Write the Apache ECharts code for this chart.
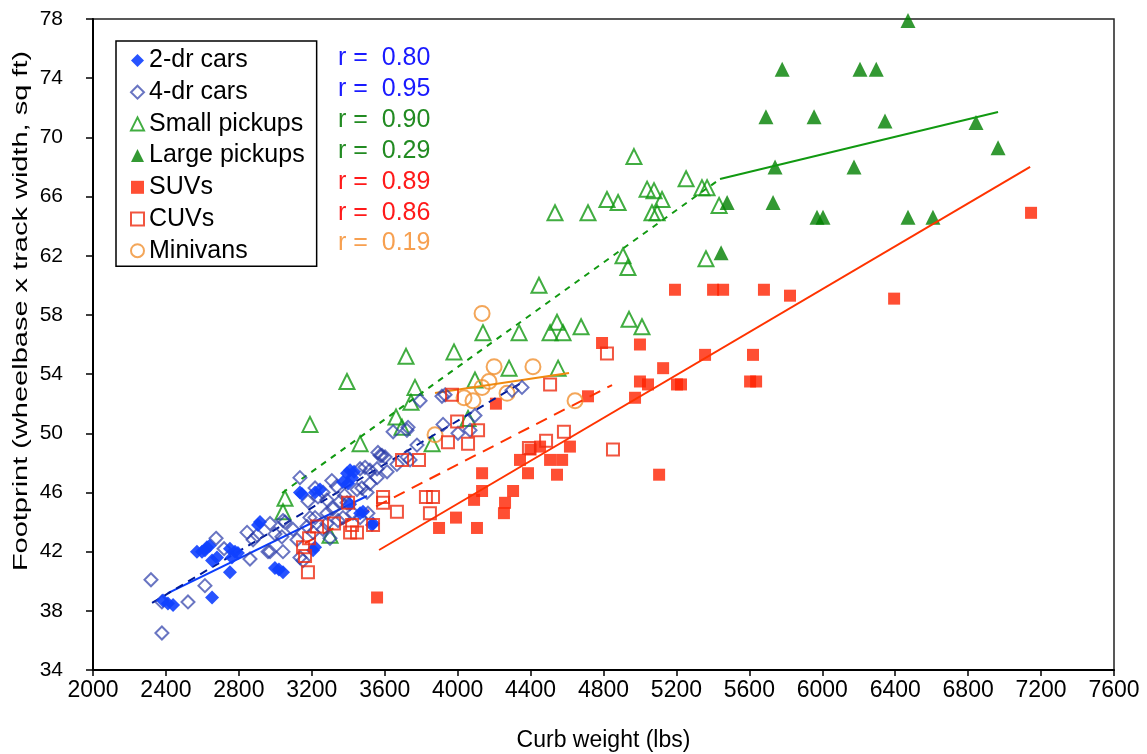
<!DOCTYPE html>
<html><head><meta charset="utf-8">
<script src="https://cdn.jsdelivr.net/npm/echarts@6/dist/echarts.min.js"></script>
<style>html,body{margin:0;padding:0;background:#fff}#c{width:1147px;height:754px}</style>
</head><body><div id="c"></div>
<script>
const xTicks = [2000,2400,2800,3200,3600,4000,4400,4800,5200,5600,6000,6400,6800,7200,7600];
const yTicks = [34,38,42,46,50,54,58,62,66,70,74,78];
const seriesNames = ['2-dr cars','4-dr cars','Small pickups','Large pickups','SUVs','CUVs','Minivans'];
const rLabels = ['r =  0.80','r =  0.95','r =  0.90','r =  0.29','r =  0.89','r =  0.86','r =  0.19'];
const xTitle = 'Curb weight (lbs)';
const yTitle = 'Footprint (wheelbase x track width, sq ft)';

const twoDoor = [[2384,38.7],[2411,38.5],[2439,38.4],[2653,38.9],[2598,42.0],[2614,42.1],[2625,42.3],[2653,41.4],[2680,41.6],[2751,40.6],[2751,42.2],[2779,42.0],[2795,41.9],[2762,41.6],[2905,43.8],[2916,44.0],[2998,40.9],[3042,40.6],[3020,40.8],[3135,46.0],[3146,45.9],[3218,46.0],[3245,46.2],[3218,42.3],[3207,42.1],[3393,47.3],[3410,47.5],[3421,47.0],[3371,46.7],[3399,46.6],[3432,47.4],[3465,44.6],[3481,44.7],[3530,43.8],[3536,43.9],[3410,45.2],[2570,42.0],[2640,42.4]];
const fourDoor = [[2318,40.1],[2378,36.5],[2378,38.6],[2521,38.6],[2614,39.7],[2675,42.9],[2719,42.2],[2845,43.3],[2960,42.0],[2861,41.5],[2900,43.1],[2878,42.8],[2971,43.9],[2998,43.2],[2971,42.0],[3042,42.0],[3036,43.0],[3053,44.0],[3042,44.1],[3097,43.5],[3119,42.8],[3135,41.6],[3152,41.4],[3135,47.0],[3179,45.4],[3190,44.3],[3218,46.3],[3234,45.7],[3262,46.0],[3283,45.5],[3316,44.9],[3283,44.6],[3344,44.1],[3371,44.3],[3218,44.3],[3283,43.9],[3262,43.5],[3207,43.3],[3174,43.7],[3300,42.9],[3355,45.4],[3393,45.3],[3426,44.6],[3465,44.3],[3508,44.6],[3448,46.2],[3475,46.3],[3503,46.0],[3519,46.6],[3558,47.0],[3613,47.4],[3465,47.6],[3492,47.7],[3519,47.5],[3558,47.6],[3563,48.7],[3585,48.5],[3602,48.4],[3575,48.5],[3667,47.9],[3739,48.2],[3722,48.4],[3777,49.2],[3722,50.2],[3646,50.1],[3728,50.4],[3794,52.2],[3920,50.6],[4002,50.0],[4068,50.2],[4095,51.2],[3931,52.6],[3914,52.5],[4298,52.9],[4353,53.1],[3336,46.4],[3310,46.8],[3380,45.8]];
const smallPickups = [[4967,68.7],[5253,67.2],[4819,65.8],[4880,65.6],[4715,64.9],[4534,64.9],[5039,66.5],[5077,66.4],[5121,65.8],[5066,64.9],[5094,64.9],[5340,66.6],[5368,66.6],[5434,65.4],[4907,62.0],[4934,61.2],[5362,61.8],[4446,60.0],[4139,56.8],[4337,56.8],[4545,57.5],[4507,56.8],[4578,56.8],[4677,57.2],[4940,57.7],[5011,57.2],[3980,55.5],[4282,54.4],[4551,54.4],[4095,53.6],[4057,51.0],[3717,55.2],[3766,53.1],[3744,52.1],[3662,51.1],[3695,50.4],[3860,49.3],[3393,53.5],[3190,50.6],[3465,49.3],[3300,43.1],[3053,45.6],[3042,44.7]];
const largePickups = [[6470,77.9],[5780,74.6],[6207,74.6],[6296,74.6],[5691,71.4],[5955,71.4],[6344,71.1],[6843,71.0],[6964,69.3],[5741,68.0],[6174,68.0],[5478,65.6],[5730,65.6],[5971,64.6],[6004,64.6],[6470,64.6],[6607,64.6],[5445,62.2]];
const suvs = [[5192,59.7],[5401,59.7],[5456,59.7],[5680,59.7],[5823,59.3],[6394,59.1],[7145,64.9],[4792,56.1],[5000,56.0],[5357,55.3],[5620,55.3],[5127,54.4],[5000,53.5],[5044,53.3],[5203,53.3],[5225,53.3],[5604,53.5],[5637,53.5],[4973,52.4],[5105,47.2],[4715,52.5],[4210,52.0],[4452,49.1],[4507,48.2],[4573,48.2],[4616,49.1],[4342,48.2],[4386,47.3],[4545,47.2],[4134,47.3],[4134,46.1],[4090,45.5],[4304,46.1],[4260,45.3],[4254,44.6],[3991,44.3],[3898,43.6],[4106,43.6],[3558,38.9],[4400,48.9]];
const cuvs = [[4819,55.4],[4507,53.3],[3969,52.6],[3997,50.8],[4112,50.2],[3947,49.4],[4057,49.3],[4583,50.1],[4485,49.5],[4391,49.0],[4852,48.9],[3695,48.2],[3788,48.2],[3826,45.7],[3865,45.7],[3848,44.6],[3667,44.7],[3591,45.7],[3591,45.3],[3399,45.3],[3229,43.7],[3322,43.9],[3421,43.8],[3410,43.3],[3448,43.3],[3536,43.8],[3185,42.9],[3152,42.3],[3163,41.7],[3179,40.6]];
const minivans = [[4134,58.1],[4200,54.5],[4413,54.5],[4172,53.5],[4134,53.1],[4035,52.4],[4084,52.2],[4271,52.7],[4644,52.2],[3876,49.9]];

const trend2dr = [[2411,39.2],[3503,45.76]];
const trend4dr = [[2324,38.53],[4348,53.40]];
const trendSmall = [[3037,45.96],[5439,67.19]];
const trendLarge = [[5439,67.19],[6964,71.71]];
const trendSuv = [[3569,42.11],[7140,68.0]];
const trendCuv = [[3163,42.58],[4847,53.26]];
const trendMini = [[3876,52.72],[4611,54.07]];

const FONT = 'Liberation Sans, Arial, sans-serif';
const rColors = ['#1a1aff','#1a1aff','#228b22','#228b22','#ff1a1a','#ff1a1a','#f7a050'];

function scat(name, data, symbol, size, style, z){
  return {name, type:'scatter', data, symbol, symbolSize:size, itemStyle:style, clip:false, z:z||2, emphasis:{disabled:true}};
}
function line(data, color, type, width){
  return {type:'line', data, showSymbol:false, symbol:'none', lineStyle:{color, type, width}, z:3, silent:true, clip:false};
}
const tr = 'rgba(255,255,255,0)';
const chart = echarts.init(document.getElementById('c'), null, {renderer:'canvas'});
const graphics = rLabels.map((t,i)=>({type:'text', left:338, top:[46,77,108,139,170,201,231][i],
    style:{text:t, font:'25px '+FONT, fill:rColors[i]}, z:10}));
graphics.push({type:'text', x:21, y:311, rotation:Math.PI/2, scaleX:1.38, z:10,
  style:{text:yTitle, font:'21px '+FONT, fill:'#000', align:'center', verticalAlign:'middle'}});
chart.setOption({
  animation:false,
  backgroundColor:'#fff',
  grid:{left:93, right:33, top:19, bottom:84, show:true, borderColor:'#222', borderWidth:1.5,
    backgroundColor:'transparent', containLabel:false, outerBoundsMode:'none'},
  xAxis:{type:'value', min:xTicks[0], max:xTicks[xTicks.length-1], interval:400,
    name:xTitle, nameLocation:'middle', nameGap:59,
    nameTextStyle:{fontFamily:FONT, fontSize:23, color:'#000'},
    axisLine:{show:true, onZero:false, lineStyle:{color:'#000', width:2}},
    axisTick:{show:true, length:6, lineStyle:{color:'#000', width:1.5}},
    axisLabel:{fontFamily:FONT, fontSize:23, color:'#000', margin:9, formatter:v=>String(v)},
    splitLine:{show:false}},
  yAxis:{type:'value', min:yTicks[0], max:yTicks[yTicks.length-1], interval:4,
    axisLine:{show:true, onZero:false, lineStyle:{color:'#000', width:2}},
    axisTick:{show:true, length:7, lineStyle:{color:'#000', width:1.5}},
    axisLabel:{fontFamily:FONT, fontSize:21, color:'#000', margin:30},
    splitLine:{show:false}},
  legend:{data:seriesNames, orient:'vertical', left:116, top:41,
    padding:[7,12,3,14], itemGap:6.7, itemWidth:13, itemHeight:13,
    borderColor:'#000', borderWidth:1.5, backgroundColor:'#fff',
    textStyle:{fontFamily:FONT, fontSize:25, color:'#000', lineHeight:25}, selectedMode:false},
  graphic: graphics,
  series:[
    scat(seriesNames[0], twoDoor, 'diamond', 14, {color:'#1040ff', opacity:0.9}, 4),
    scat(seriesNames[1], fourDoor, 'diamond', 13, {color:tr, borderColor:'#2a3aa8', borderWidth:2, opacity:0.7}, 3),
    scat(seriesNames[2], smallPickups, 'triangle', 15, {color:tr, borderColor:'#119911', borderWidth:2}, 2),
    scat(seriesNames[3], largePickups, 'triangle', 15, {color:'#008000'}, 2),
    scat(seriesNames[4], suvs, 'rect', 12, {color:'#ff2200'}, 2),
    scat(seriesNames[5], cuvs, 'rect', 12, {color:tr, borderColor:'#ee2a10', borderWidth:2}, 5),
    scat(seriesNames[6], minivans, 'circle', 15, {color:tr, borderColor:'#f09030', borderWidth:2}, 2),
    line(trend2dr, '#0b3dff', 'solid', 2),
    line(trend4dr, '#001a99', [8,6], 2),
    line(trendSmall, '#119911', [6,6], 2),
    line(trendLarge, '#119911', 'solid', 2),
    line(trendSuv, '#ff3300', 'solid', 2),
    line(trendCuv, '#ff3300', [12,8], 2),
    line(trendMini, '#f08a10', 'solid', 2)
  ]
});
</script></body></html>
